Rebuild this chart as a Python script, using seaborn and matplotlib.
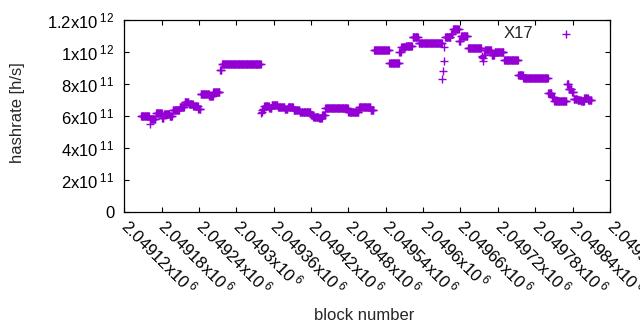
import numpy as np
import pandas as pd
import matplotlib
matplotlib.use('Agg')
import matplotlib.pyplot as plt
import matplotlib.ticker as mticker
import matplotlib.transforms as mtransforms
import seaborn as sns

# Hashrate per block, stored as runs of consecutive blocks with the same value
# first block, last block of each run, and hashrate in units of 1e11 h/s
run_first = [
    2049147, 2049161, 2049162, 2049171, 2049181, 2049184, 2049193, 2049198,
    2049209, 2049217, 2049224, 2049231, 2049239, 2049243, 2049257, 2049263,
    2049274, 2049277,
    2049340, 2049341, 2049342, 2049343, 2049345, 2049353, 2049357, 2049367,
    2049378, 2049383, 2049392, 2049402, 2049420, 2049424, 2049433, 2049438,
    2049443, 2049480, 2049497, 2049516,
    2049521, 2049546, 2049562, 2049565, 2049572, 2049583, 2049593, 2049631,
    2049632, 2049633, 2049634, 2049635, 2049645, 2049648, 2049658, 2049661,
    2049672, 2049694, 2049695, 2049696, 2049697, 2049698, 2049699, 2049710,
    2049715, 2049730, 2049753, 2049761, 2049801, 2049807, 2049811, 2049831,
    2049834, 2049839, 2049842, 2049848, 2049854, 2049859, 2049865,
]
run_last = [
    2049160, 2049161, 2049170, 2049180, 2049183, 2049192, 2049197, 2049208,
    2049216, 2049223, 2049230, 2049238, 2049242, 2049256, 2049262, 2049273,
    2049276, 2049339,
    2049340, 2049341, 2049342, 2049344, 2049352, 2049356, 2049366, 2049377,
    2049382, 2049391, 2049401, 2049419, 2049423, 2049432, 2049437, 2049442,
    2049479, 2049496, 2049515, 2049520,
    2049545, 2049561, 2049564, 2049571, 2049582, 2049592, 2049630, 2049631,
    2049632, 2049633, 2049634, 2049644, 2049647, 2049657, 2049660, 2049671,
    2049693, 2049694, 2049695, 2049696, 2049697, 2049698, 2049709, 2049714,
    2049729, 2049752, 2049760, 2049800, 2049806, 2049810, 2049830, 2049833,
    2049838, 2049841, 2049847, 2049853, 2049858, 2049864, 2049870,
]
run_rate = [
    5.97, 5.50, 5.80, 6.16, 5.87, 6.10, 6.02, 6.38,
    6.55, 6.87, 6.72, 6.62, 6.45, 7.39, 7.24, 7.49,
    8.85, 9.26,
    6.15, 6.25, 6.35, 6.45, 6.62, 6.49, 6.65, 6.57,
    6.43, 6.55, 6.35, 6.21, 6.05, 5.95, 5.85, 6.08,
    6.47, 6.26, 6.55, 6.37,
    10.10, 9.33, 10.00, 10.30, 10.40, 10.92, 10.54, 8.29,
    8.79, 9.41, 10.30, 10.92, 11.10, 11.42, 10.70, 10.98,
    10.23, 9.75, 9.70, 9.45, 9.60, 9.80, 10.15, 9.80,
    9.98, 9.48, 8.54, 8.35, 7.41, 7.18, 6.92, 8.00,
    7.68, 7.52, 7.05, 6.99, 6.92, 7.10, 6.99,
]

blocks, rates = [], []
for first, last, rate in zip(run_first, run_last, run_rate):
    for b in range(first, last + 1):
        blocks.append(b)
        rates.append(rate * 1e11)
df = pd.DataFrame({'block': blocks, 'hashrate': rates})


def sci_label(v, pos=None):
    if v == 0:
        return '0'
    exp = int(np.floor(np.log10(abs(v)) + 1e-9))
    mant = ('%.6f' % (v / 10 ** exp)).rstrip('0').rstrip('.')
    return r'$%sx10\,^{%d}$' % (mant, exp)


sns.set_style('ticks')
plt.rcParams['font.family'] = ['Liberation Sans', 'DejaVu Sans']
plt.rcParams['mathtext.fontset'] = 'custom'
plt.rcParams['mathtext.rm'] = 'Liberation Sans'
plt.rcParams['mathtext.default'] = 'regular'
plt.rcParams['font.size'] = 12

fig = plt.figure(figsize=(6.4, 3.3), dpi=100)
ax = fig.add_axes([0.194, 0.3585, 0.759, 0.581])

sns.scatterplot(data=df, x='block', y='hashrate', marker='+', color='#9400d3',
                s=26, linewidth=1.0, label='X17', ax=ax)

ax.set_xlim(2049120, 2049900)
ax.set_ylim(0, 1.2e12)
ax.xaxis.set_major_locator(mticker.MultipleLocator(60))
ax.yaxis.set_major_locator(mticker.MultipleLocator(2e11))
ax.xaxis.set_major_formatter(mticker.FuncFormatter(sci_label))
ax.yaxis.set_major_formatter(mticker.FuncFormatter(sci_label))

ax.tick_params(direction='in', length=3.5, width=0.8, top=True, right=True,
               labelsize=12, colors='black')
ax.tick_params(axis='x', pad=7)
ax.tick_params(axis='y', pad=7)
shift = mtransforms.ScaledTranslation(5.4 / 72, 4.7 / 72, fig.dpi_scale_trans)
for lab in ax.get_xticklabels():
    lab.set_rotation(-45)
    lab.set_ha('left')
    lab.set_va('top')
    lab.set_rotation_mode('anchor')
    lab.set_transform(lab.get_transform() + shift)

for sp in ax.spines.values():
    sp.set_visible(True)
    sp.set_linewidth(0.9)
    sp.set_color('black')

ax.set_xlabel('block number', fontsize=12)
ax.set_ylabel('hashrate [h/s]', fontsize=12)
ax.xaxis.label.set_va('center')
ax.yaxis.label.set_va('center')
ax.xaxis.set_label_coords(0.495, -0.544)
ax.yaxis.set_label_coords(-0.220, 0.515)

ax.legend(loc='upper right', bbox_to_anchor=(0.943, 0.969), frameon=False,
          markerfirst=False, borderaxespad=0, borderpad=0, handlelength=2,
          handletextpad=0.95, fontsize=12)

fig.savefig('out.png', dpi=100)
